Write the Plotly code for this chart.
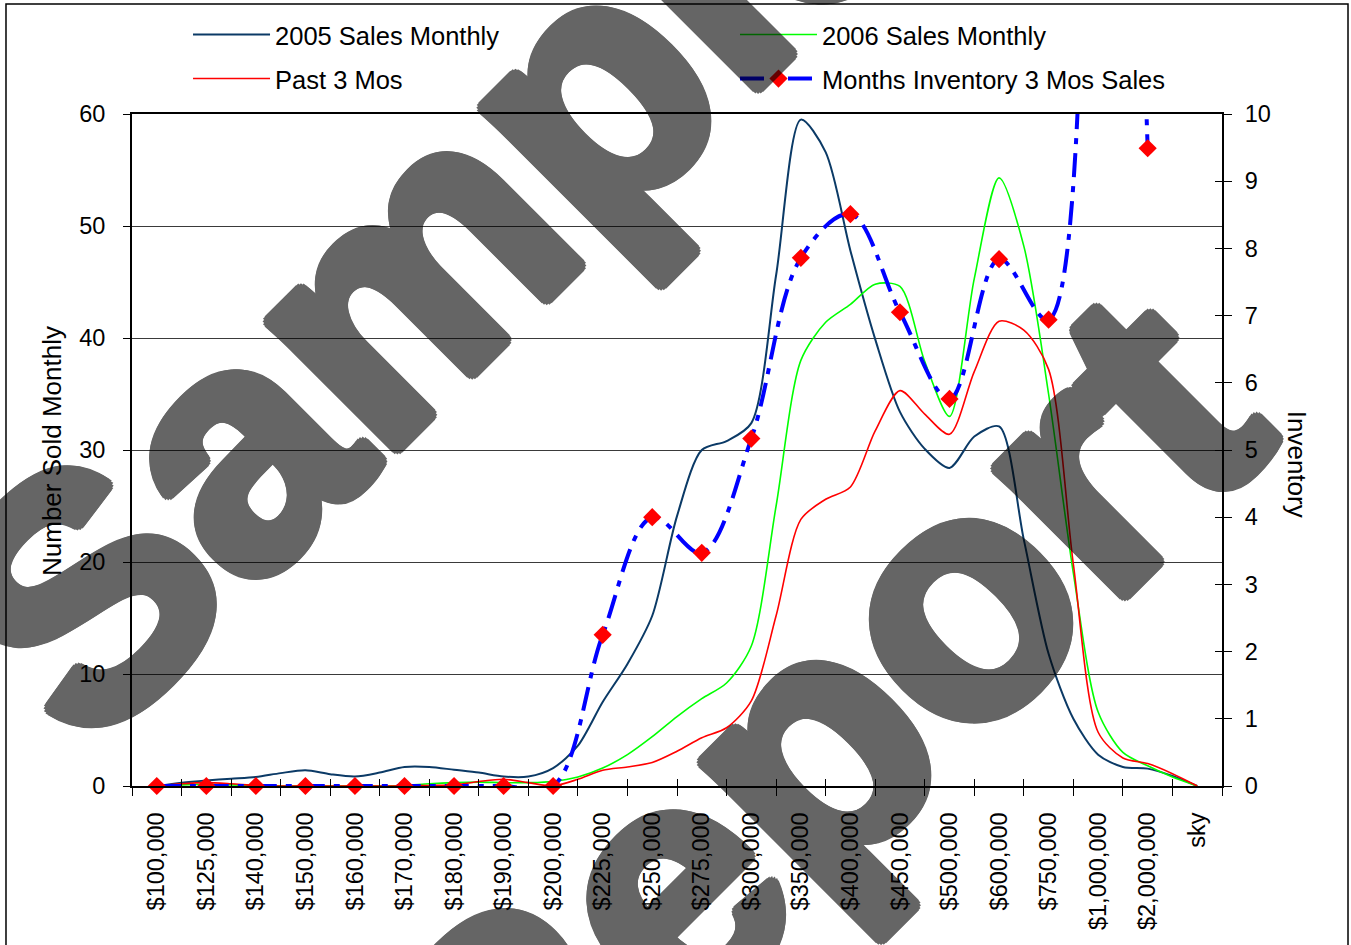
import math
import plotly.graph_objects as go

# ---------------- data ----------------
PRICE_LABELS = ["$100,000", "$125,000", "$140,000", "$150,000", "$160,000",
                "$170,000", "$180,000", "$190,000", "$200,000", "$225,000",
                "$250,000", "$275,000", "$300,000", "$350,000", "$400,000",
                "$450,000", "$500,000", "$600,000", "$750,000", "$1,000,000",
                "$2,000,000", "sky"]

# sales series are sampled every half price band (0, 0.5, 1, ... 21)
SALES_STEP = 0.5
SALES_2005 = [0.0, 0.3, 0.5, 0.65, 0.8, 1.15, 1.4, 1.05, 0.85, 1.2,
              1.7, 1.7, 1.45, 1.2, 0.85, 0.85, 1.6, 3.6, 7.5, 10.9,
              15.2, 24.1, 30.0, 30.8, 32.4, 45.6, 59.5, 56.6, 47.8, 39.9,
              33.4, 30.1, 28.4, 31.2, 32.1, 22.0, 11.8, 6.0, 2.8, 1.7,
              1.55, 0.9, 0.0]
SALES_2006 = [0.0, 0.1, 0.15, 0.1, 0.05, 0.0, 0.0, 0.0, 0.0, 0.0,
              0.05, 0.2, 0.3, 0.35, 0.3, 0.3, 0.4, 0.8, 1.6, 2.8,
              4.4, 6.2, 7.8, 9.2, 12.5, 25.0, 38.0, 41.4, 43.0, 44.8,
              44.6, 37.9, 33.0, 45.3, 54.3, 48.2, 35.0, 19.0, 6.6, 3.0,
              1.8, 0.8, 0.0]
PAST_3_MOS = [0.0, 0.2, 0.3, 0.2, 0.05, 0.0, 0.0, 0.0, 0.0, 0.0,
              0.0, 0.05, 0.1, 0.4, 0.6, 0.3, 0.0, 0.6, 1.4, 1.7,
              2.1, 3.1, 4.3, 5.2, 7.6, 15.2, 23.8, 25.6, 26.7, 31.7,
              35.3, 33.2, 31.4, 37.0, 41.5, 40.7, 37.2, 19.8, 4.8, 2.5,
              2.0, 1.1, 0.0]
# months of inventory, one value per price band ($100,000 ... $2,000,000)
INVENTORY = [0, 0, 0, 0, 0, 0, 0, 0, 0, 2.25,
             4.0, 3.47, 5.17, 7.86, 8.51, 7.05, 5.76, 7.84, 6.94, 24.0,
             9.49]

LEFT_TICKS = [0, 10, 20, 30, 40, 50, 60]
RIGHT_TICKS = list(range(0, 11))

FONT = "Liberation Sans, Arial, Helvetica, sans-serif"

sales_x = [i * SALES_STEP for i in range(len(SALES_2005))]
band_x = list(range(len(PRICE_LABELS)))
inv_x = list(range(len(INVENTORY)))

fig = go.Figure()

fig.add_trace(go.Scatter(
    x=sales_x, y=SALES_2005, mode="lines", name="2005 Sales Monthly",
    line=dict(color="#0b3a66", width=2, shape="spline", smoothing=0.8),
    legend="legend", hoverinfo="skip"))
fig.add_trace(go.Scatter(
    x=sales_x, y=SALES_2006, mode="lines", name="2006 Sales Monthly",
    line=dict(color="#00ff00", width=1.6, shape="spline", smoothing=0.8),
    legend="legend2", hoverinfo="skip"))
fig.add_trace(go.Scatter(
    x=sales_x, y=PAST_3_MOS, mode="lines", name="Past 3 Mos",
    line=dict(color="#ff0000", width=1.6, shape="spline", smoothing=0.8),
    legend="legend3", hoverinfo="skip"))
fig.add_trace(go.Scatter(
    x=inv_x, y=INVENTORY, mode="lines+markers", yaxis="y2",
    name="Months Inventory 3 Mos Sales",
    line=dict(color="#0000ff", width=4, dash="24px,9px,6px,9px",
              shape="spline", smoothing=1),
    marker=dict(symbol="diamond", size=14, color="#ff0000",
                line=dict(width=0)),
    cliponaxis=False, legend="legend4", hoverinfo="skip"))

# helper traces so the inner half of the crossing tick marks get drawn
fig.add_trace(go.Scatter(x=[None], y=[None], xaxis="x2", yaxis="y",
                         showlegend=False, hoverinfo="skip"))
fig.add_trace(go.Scatter(x=[None], y=[None], xaxis="x", yaxis="y3",
                         showlegend=False, hoverinfo="skip"))

tickfont = dict(family=FONT, size=23.5, color="black")
legend_common = dict(font=dict(family=FONT, size=25.5, color="black"),
                     bgcolor="rgba(0,0,0,0)", borderwidth=0,
                     itemwidth=77, xanchor="left", yanchor="middle",
                     orientation="v", itemclick=False)

fig.update_layout(
    width=1351, height=945,
    margin=dict(l=132, r=129, t=114, b=159, autoexpand=False),
    paper_bgcolor="white", plot_bgcolor="white",
    font=dict(family=FONT, color="black"),
    xaxis=dict(range=[-0.5, len(PRICE_LABELS) - 0.5],
               tickmode="array", tickvals=band_x, ticktext=PRICE_LABELS,
               tickangle=-90, ticks="", tickfont=tickfont,
               ticklabelstandoff=15,
               showline=True, linecolor="black", linewidth=2, mirror=True,
               showgrid=False, zeroline=False,
               minor=dict(tickmode="linear", tick0=0.5, dtick=1,
                          ticks="outside", ticklen=8, tickwidth=1,
                          tickcolor="black", showgrid=False)),
    xaxis2=dict(overlaying="x", anchor="y", side="bottom",
                range=[-0.5, len(PRICE_LABELS) - 0.5],
                tickmode="linear", tick0=0.5, dtick=1,
                ticks="inside", ticklen=7, tickwidth=1, tickcolor="black",
                showticklabels=False, showline=False, showgrid=False,
                zeroline=False),
    yaxis=dict(range=[0, 60], tickmode="array", tickvals=LEFT_TICKS,
               ticks="outside", ticklen=7, tickwidth=1, tickcolor="black",
               tickfont=tickfont, ticklabelstandoff=13,
               showline=True, linecolor="black", linewidth=2,
               showgrid=True, gridcolor="#3a3a3a", gridwidth=1,
               zeroline=False),
    yaxis2=dict(range=[0, 10], overlaying="y", side="right", anchor="x",
                tickmode="array", tickvals=RIGHT_TICKS,
                ticks="outside", ticklen=8, tickwidth=1, tickcolor="black",
                tickfont=tickfont, ticklabelstandoff=8,
                showline=True, linecolor="black", linewidth=2,
                showgrid=False, zeroline=False),
    yaxis3=dict(range=[0, 10], overlaying="y", side="right", anchor="x",
                tickmode="array", tickvals=RIGHT_TICKS,
                ticks="inside", ticklen=7, tickwidth=1, tickcolor="black",
                showticklabels=False, showline=False, showgrid=False,
                zeroline=False),
    legend=dict(x=0.0514, y=1.1176, **legend_common),
    legend2=dict(x=0.5532, y=1.1176, **legend_common),
    legend3=dict(x=0.0514, y=1.0521, **legend_common),
    legend4=dict(x=0.5532, y=1.0521, **legend_common),
    showlegend=True,
)

# heavy watermark lettering: bold face thickened with a ring of text shadows
r = 7
heavy = ", ".join(
    "%.1fpx %.1fpx 0 black" % (r * math.cos(k * math.pi / 8),
                               r * math.sin(k * math.pi / 8))
    for k in range(16))
wm_font = dict(family=FONT, size=340, color="black", weight="bold",
               shadow=heavy)

annotations = [
    dict(text="Number Sold Monthly", xref="paper", yref="paper",
         x=-0.0734, y=0.4985, textangle=-90, showarrow=False,
         xanchor="center", yanchor="middle",
         font=dict(family=FONT, size=26, color="black")),
    dict(text="Inventory", xref="paper", yref="paper",
         x=1.0688, y=0.478, textangle=90, showarrow=False,
         xanchor="center", yanchor="middle",
         font=dict(family=FONT, size=26, color="black")),
    # watermark
    dict(text="Sample", xref="paper", yref="paper", x=0.275, y=0.800,
         textangle=-45, showarrow=False, xanchor="center", yanchor="middle",
         font=wm_font, opacity=0.6),
    dict(text="Report", xref="paper", yref="paper", x=0.624, y=0.065,
         textangle=-45, showarrow=False, xanchor="center", yanchor="middle",
         font=wm_font, opacity=0.6),
]
fig.update_layout(annotations=annotations)

# outer frame of the chart image
fig.add_shape(type="rect", xref="paper", yref="paper",
              x0=-0.1156, x1=1.1156, y0=-0.5, y1=1.1637,
              line=dict(color="black", width=1.5), fillcolor="rgba(0,0,0,0)",
              layer="below")

fig.write_html("out.html")
